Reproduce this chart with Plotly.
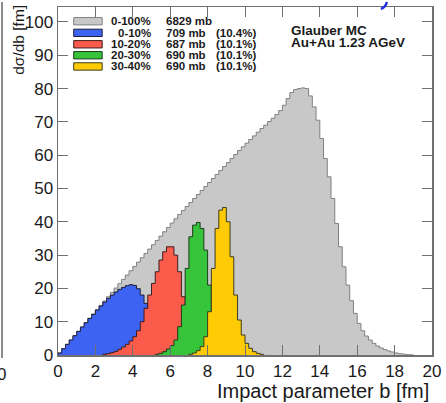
import numpy as np
import plotly.graph_objects as go

# ---------------- data ----------------
BIN_WIDTH = 0.2  # fm

# 0-100 %  (first bin starts at b = 0)
all_b0 = 0.0
all_vals = [0.6, 1.9, 3.2, 4.5, 5.8, 7.1, 8.4, 9.7, 11.0, 12.3,
            13.6, 14.9, 16.2, 17.5, 18.8, 20.1, 21.4, 22.7, 24.0, 25.3,
            26.6, 27.9, 29.2, 30.5, 31.8, 33.1, 34.4, 35.7, 37.0, 38.3,
            39.6, 40.9, 42.2, 43.4, 44.6, 45.8, 47.0, 48.2, 49.4, 50.6,
            51.8, 53.0, 54.2, 55.4, 56.6, 57.8, 59.0, 60.2, 61.4, 62.5,
            63.6, 64.7, 65.8, 66.9, 68.0, 69.0, 70.1, 71.1, 72.2, 73.4,
            75.0, 77.0, 78.8, 79.7, 80.0, 80.2, 80.0, 77.8, 74.5, 70.5,
            65.0, 59.0, 53.5, 47.0, 39.5, 32.5, 26.5, 21.0, 16.3, 12.5,
            9.5, 7.3, 5.7, 4.5, 3.5, 2.7, 2.1, 1.6, 1.2, 0.9,
            0.6, 0.4, 0.25, 0.12, 0.05]

c0_10_b0 = 0.0
c0_10_vals = [0.6, 1.9, 3.2, 4.5, 5.8, 7.1, 8.4, 9.7, 11.0, 12.2,
              13.5, 14.7, 15.9, 17.0, 18.0, 18.9, 19.7, 20.3, 20.8, 21.1,
              20.9, 19.9, 18.0, 15.5, 12.0, 8.5, 5.7, 3.5, 2.0, 1.1,
              0.6, 0.3, 0.1]

c10_20_b0 = 2.4
c10_20_vals = [0.2, 0.4, 0.7, 1.1, 1.7, 2.4, 3.2, 4.2, 5.5, 7.3,
               10.0, 14.0, 18.0, 21.5, 25.0, 28.5, 31.0, 32.5, 32.5, 30.0,
               25.0, 17.5, 10.5, 6.0, 3.3, 1.8, 1.0, 0.5, 0.2]

c20_30_b0 = 5.2
c20_30_vals = [0.2, 0.5, 1.0, 1.8, 2.8, 4.5, 8.5, 15.0, 26.0, 35.5,
               39.0, 39.8, 38.0, 31.5, 21.0, 12.5, 7.5, 4.0, 2.3, 1.3,
               0.7, 0.3, 0.1]

c30_40_b0 = 7.0
c30_40_vals = [0.2, 0.6, 1.3, 2.5, 5.5, 13.0, 26.0, 38.0, 43.5, 44.3,
               40.0, 29.5, 18.0, 10.5, 6.0, 3.5, 2.0, 1.0, 0.5, 0.2]

legend_ranges = ["0-100%", "0-10%", "10-20%", "20-30%", "30-40%"]
legend_xsec = ["6829 mb", "709 mb", "687 mb", "690 mb", "690 mb"]
legend_frac = ["", "(10.4%)", "(10.1%)", "(10.1%)", "(10.1%)"]

x_ticks = [0, 2, 4, 6, 8, 10, 12, 14, 16, 18, 20]
y_ticks = [0, 10, 20, 30, 40, 50, 60, 70, 80, 90, 100]

# ---------------- styles ----------------
fills = ["#c8c8c8", "#3d63f2", "#fa5b4b", "#35c43a", "#ffcb05"]
edges_col = ["#808080", "#1e1e3c", "#3c1e1e", "#1e3c1e", "#3c3c1e"]
series = [(all_b0, all_vals), (c0_10_b0, c0_10_vals), (c10_20_b0, c10_20_vals),
          (c20_30_b0, c20_30_vals), (c30_40_b0, c30_40_vals)]

fig = go.Figure()
for (b0, vals), fc, lc in zip(series, fills, edges_col):
    v = np.asarray(vals, dtype=float)
    edges = b0 + BIN_WIDTH * np.arange(len(v) + 1)
    xs = np.concatenate([[edges[0]], edges, [edges[-1]]])
    ys = np.concatenate([[0.0], v, [v[-1]], [0.0]])
    fig.add_trace(go.Scatter(x=xs, y=ys, mode="lines", line_shape="hv",
                             line=dict(color=lc, width=1), fill="tozeroy",
                             fillcolor=fc, showlegend=False, hoverinfo="skip"))

W, H = 446, 403
L, R, T, B = 58, 7, 5, 48
pw, ph = W - L - R, H - T - B


def px(x):
    return (x - L) / pw


def py(y):
    return (H - B - y) / ph


FONT = "Liberation Sans, Arial, Helvetica, sans-serif"
frame_col = "#707070"

fig.update_layout(
    width=W, height=H,
    margin=dict(l=L, r=R, t=T, b=B, pad=0),
    paper_bgcolor="white", plot_bgcolor="white",
    font=dict(family=FONT, color="#1a1a1a"),
    xaxis=dict(range=[0, 20], tickvals=x_ticks, ticktext=[str(t) for t in x_ticks],
               ticks="inside", ticklen=10, tickwidth=1, tickcolor=frame_col,
               showline=True, linecolor=frame_col, linewidth=1.5, mirror="ticks",
               showgrid=False, zeroline=False, ticklabeloverflow="allow",
               tickfont=dict(size=17, family=FONT)),
    yaxis=dict(range=[0, 104.5], tickvals=y_ticks, ticktext=[str(t) for t in y_ticks],
               ticks="inside", ticklen=10, tickwidth=1, tickcolor=frame_col,
               showline=True, linecolor=frame_col, linewidth=1.5, mirror="ticks",
               showgrid=False, zeroline=False, ticklabeloverflow="allow",
               tickfont=dict(size=17, family=FONT)),
)

ann = []
shapes = []
# axis titles (ROOT style, aligned to axis ends)
ann.append(dict(text="Impact parameter b [fm]", xref="paper", yref="paper",
                x=px(438), y=py(391), xanchor="right", yanchor="middle",
                showarrow=False, font=dict(size=20, family=FONT, color="#1a1a1a")))
ann.append(dict(text="dσ/db [fm]", xref="paper", yref="paper",
                x=px(17), y=py(1), xanchor="center", yanchor="top", textangle=-90,
                showarrow=False, font=dict(size=15.5, family=FONT, color="#1a1a1a")))

# legend
row_y = [19.3, 31.0, 42.5, 53.5, 64.8]
for i, yy in enumerate(row_y):
    shapes.append(dict(type="rect", xref="paper", yref="paper",
                       x0=px(74), x1=px(103), y0=py(yy + 3.7), y1=py(yy - 3.7),
                       fillcolor=fills[i], line=dict(color=edges_col[i], width=1)))
    ann.append(dict(text="<b>%s</b>" % legend_ranges[i], xref="paper", yref="paper",
                    x=px(155), y=py(yy), xanchor="right", yanchor="middle",
                    showarrow=False, font=dict(size=11.5, family=FONT, color="#1a1a1a")))
    ann.append(dict(text="<b>%s</b>" % legend_xsec[i], xref="paper", yref="paper",
                    x=px(166), y=py(yy), xanchor="left", yanchor="middle",
                    showarrow=False, font=dict(size=11.5, family=FONT, color="#1a1a1a")))
    if legend_frac[i]:
        ann.append(dict(text="<b>%s</b>" % legend_frac[i], xref="paper", yref="paper",
                        x=px(217), y=py(yy), xanchor="left", yanchor="middle",
                        showarrow=False, font=dict(size=11.5, family=FONT, color="#1a1a1a")))

ann.append(dict(text="<b>Glauber MC</b>", xref="paper", yref="paper",
                x=px(293), y=py(29), xanchor="left", yanchor="middle",
                showarrow=False, font=dict(size=13.5, family=FONT, color="#1a1a1a")))
ann.append(dict(text="<b>Au+Au 1.23 AGeV</b>", xref="paper", yref="paper",
                x=px(293), y=py(41), xanchor="left", yanchor="middle",
                showarrow=False, font=dict(size=13.5, family=FONT, color="#1a1a1a")))

# cropping artefacts at the image border
shapes.append(dict(type="line", xref="paper", yref="paper",
                   x0=px(1), x1=px(1), y0=py(0), y1=py(358),
                   line=dict(color="#8a8a8a", width=2)))
shapes.append(dict(type="path", xref="paper", yref="paper",
                   path="M %f %f Q %f %f %f %f" % (px(393), py(0), px(392), py(5), px(387), py(7)),
                   line=dict(color="#2233dd", width=2.5)))
ann.append(dict(text="0", xref="paper", yref="paper",
                x=px(7), y=py(375), xanchor="right", yanchor="middle",
                showarrow=False, font=dict(size=17, family=FONT, color="#1a1a1a")))

fig.update_layout(annotations=ann, shapes=shapes)
fig.write_html("out.html", config={"displayModeBar": False, "staticPlot": True},
               post_script="document.body.style.margin='0px';"
                           "document.body.style.overflow='hidden';")
